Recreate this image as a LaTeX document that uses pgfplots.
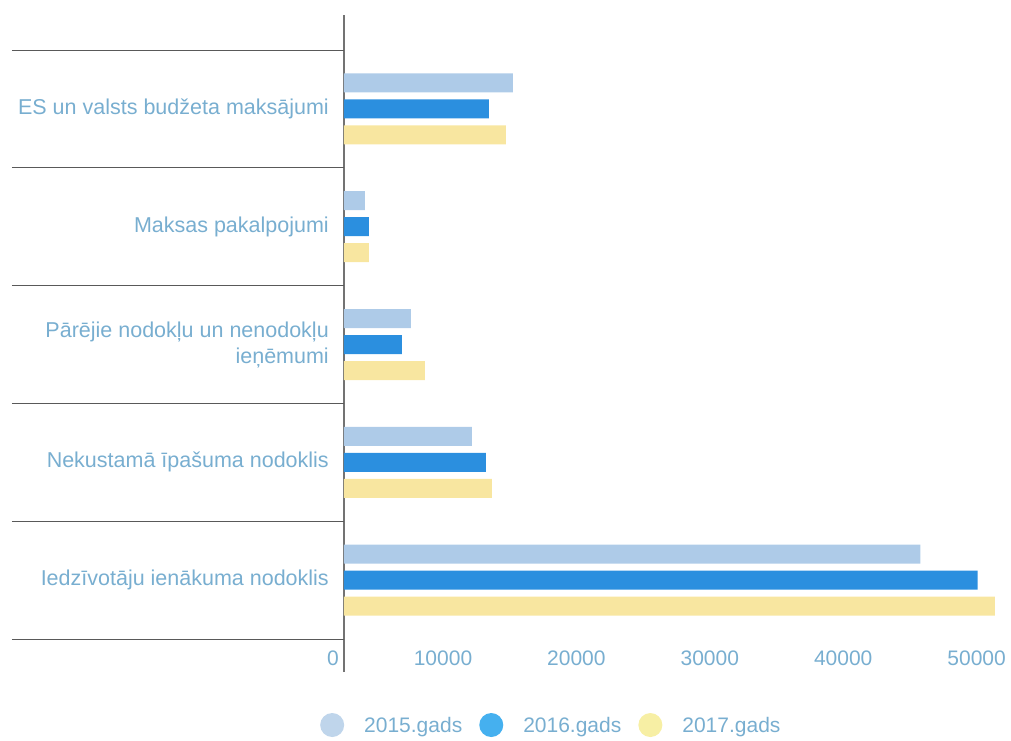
\documentclass[border=0pt]{standalone}
\usepackage{pgfplots}
\pgfplotsset{compat=1.18}
\usepackage{fontspec}
\setmainfont{Liberation Sans}
\definecolor{c15}{HTML}{AECBE8}
\definecolor{c16}{HTML}{2B8FDF}
\definecolor{c17}{HTML}{F8E6A0}
\definecolor{l15}{HTML}{BFD5EB}
\definecolor{l16}{HTML}{45B0EF}
\definecolor{l17}{HTML}{F7EFA4}
\definecolor{txt}{HTML}{78AED0}
\begin{document}
\begin{tikzpicture}
\begin{axis}[
  scale only axis, width=667pt, height=657pt,
  xmin=0, xmax=50000, ymin=-0.78, ymax=4.797,
  xbar, bar width=19pt,
  axis x line*=bottom, axis y line*=left,
  x axis line style={draw=none},
  y axis line style={draw=black!55, line width=1.6pt},
  tick align=outside, major tick length=0pt,
  xtick={0,10000,20000,30000,40000,50000},
  scaled x ticks=false,
  /pgf/number format/1000 sep={}, /pgf/number format/assume math mode=true,
  xticklabel style={anchor=south east, inner sep=0pt, xshift=-5pt, yshift=6pt, font=\fontsize{21}{25}\selectfont, text=txt},
  ytick={0,1,2,3,4},
  yticklabels={Iedzīvotāju ienākuma nodoklis, Nekustamā īpašuma nodoklis, {Pārējie nodokļu un nenodokļu\\ieņēmumi}, Maksas pakalpojumi, ES un valsts budžeta maksājumi},
  yticklabel style={align=right, inner sep=0pt, xshift=-15pt, font=\fontsize{21.5}{26}\selectfont, text=txt},
  extra y ticks={-0.5,0.5,1.5,2.5,3.5,4.5},
  extra y tick labels={},
  extra y tick style={major tick length=332pt, major tick style={draw=black!65, line width=0.9pt}},
  legend columns=-1,
  legend style={at={(-0.036,-0.0807)}, anchor=west, draw=none, fill=none, inner sep=0pt, font=\fontsize{21}{25}\selectfont, text=txt, nodes={inner sep=0pt}, /tikz/every odd column/.append style={column sep=20pt}, /tikz/every even column/.append style={column sep=17pt}},
  legend image code/.code={\fill[#1] (12pt,1pt) circle (12pt);},
]
\addlegendimage{fill=l15, draw=none}
\addlegendentry{2015.gads}
\addlegendimage{fill=l16, draw=none}
\addlegendentry{2016.gads}
\addlegendimage{fill=l17, draw=none}
\addlegendentry{2017.gads}
\addplot[fill=c15, draw=none, bar shift=26pt, forget plot] coordinates {(43200,0) (9590,1) (5020,2) (1570,3) (12660,4)};
\addplot[fill=c16, draw=none, bar shift=0pt, forget plot] coordinates {(47500,0) (10640,1) (4340,2) (1870,3) (10860,4)};
\addplot[fill=c17, draw=none, bar shift=-26pt, forget plot] coordinates {(48800,0) (11090,1) (6070,2) (1870,3) (12130,4)};
\coordinate (BL) at (rel axis cs:0,0);
\coordinate (TR) at (rel axis cs:1,1);
\end{axis}
\pgfresetboundingbox
\path[use as bounding box] ([shift={(-344pt,-68pt)}]BL) rectangle ([shift={(0pt,15pt)}]TR);
\end{tikzpicture}
\end{document}
